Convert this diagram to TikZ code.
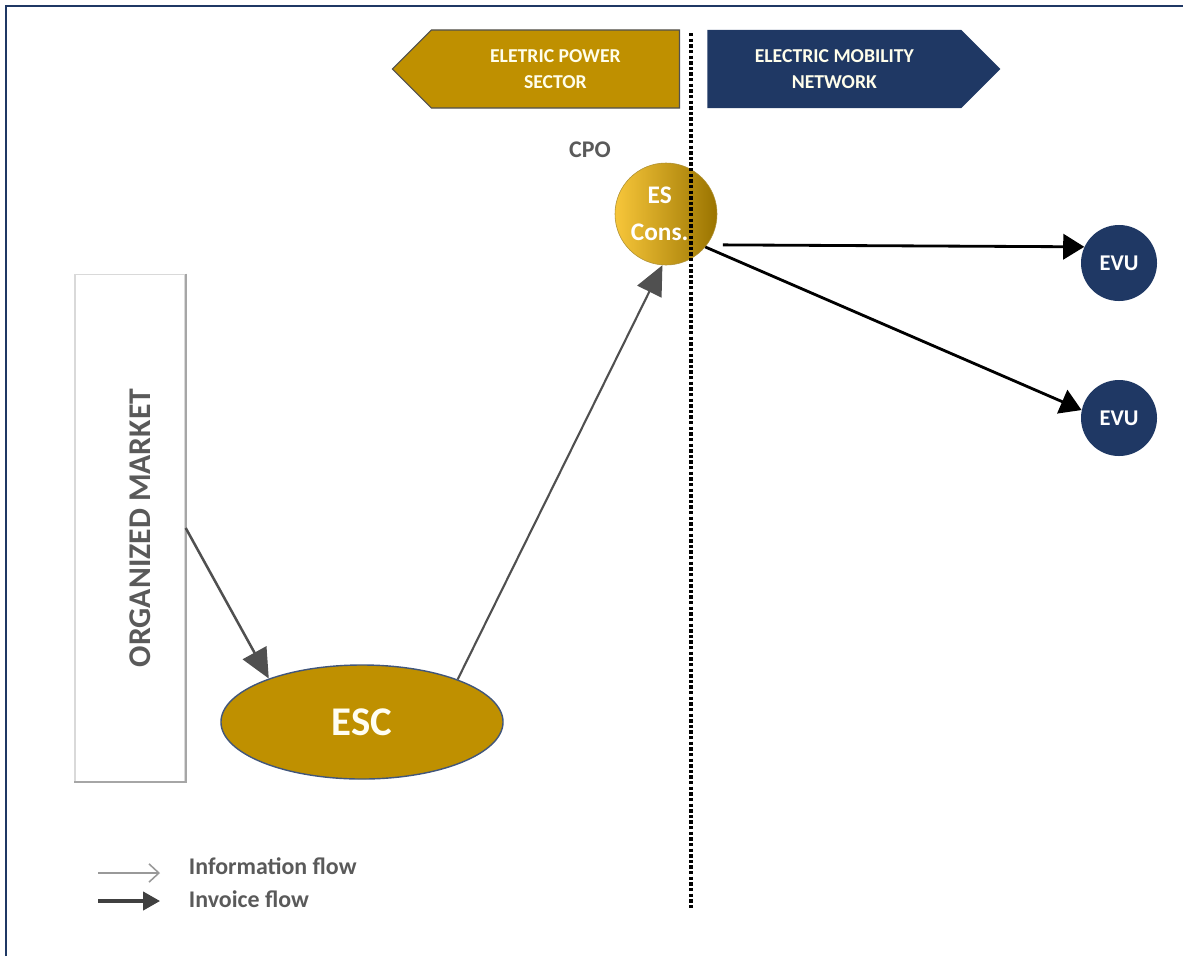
\documentclass[tikz,border=0pt]{standalone}
\usepackage{fontspec}
\setmainfont{Carlito}
\usetikzlibrary{arrows.meta,shapes.geometric,shapes.symbols}
\definecolor{gold}{HTML}{BF9000}
\definecolor{navy}{HTML}{1F3864}
\definecolor{esyellow}{HTML}{F2B705}
\definecolor{eslight}{HTML}{F7C63A}
\definecolor{esdark}{HTML}{9A7400}
\definecolor{darkgrey}{HTML}{505050}
\definecolor{textgrey}{HTML}{5A5A5A}
\begin{document}
\begin{tikzpicture}[x=0.025cm,y=-0.025cm,
    banner/.style={signal,signal pointer angle=90,minimum height=1.95cm,inner sep=0pt,
        text=white!92!yellow,align=center,font=\bfseries\fontsize{14}{18}\selectfont},
    evu/.style={circle,fill=navy,minimum size=1.9cm,inner sep=0pt,text=white,
        font=\bfseries\fontsize{16}{18}\selectfont},
    invoice/.style={-{Triangle[length=21pt,width=19pt]},draw=darkgrey,line width=1.8pt},
    mobility/.style={-{Triangle[length=15pt,width=18pt]},draw=black,line width=2pt},
    greytext/.style={text=textgrey,font=\bfseries\fontsize{17}{20}\selectfont}]
    \useasboundingbox (0,0) rectangle (1183,956);
    \draw [navy,line width=1.3pt] (6,956) -- (6,6) -- (1183,6);

    \draw (680,69) node (power) [banner,signal to=west,anchor=east,minimum width=7.175cm,
        fill=gold,draw=darkgrey,line width=0.8pt] {ELETRIC POWER\\SECTOR};
    \draw (707,69) node (mobil) [banner,signal to=east,anchor=west,minimum width=7.325cm,
        fill=navy] {ELECTRIC MOBILITY\\NETWORK};

    \coordinate (divtop) at (691,33);
    \coordinate (divbot) at (691,908);

    \draw (130,528) node (market) [rectangle,draw=black!15,line width=1pt,
        minimum width=2.75cm,minimum height=12.675cm] {};
    \draw [black!35,line width=1.6pt] (market.north east) -- (market.south east) -- (market.south west);
    \draw (140,528) node (markettext) [greytext,rotate=90,font=\bfseries\fontsize{22.5}{24}\selectfont] {ORGANIZED MARKET};

    \draw (362,722) node (esc) [ellipse,fill=gold,draw=navy!85,line width=1pt,
        minimum width=7.05cm,minimum height=2.85cm,text=white!95!yellow,
        font=\bfseries\fontsize{29}{30}\selectfont] {ESC};
    \draw (666,214) node (escons) [circle,minimum size=2.55cm,inner sep=0pt,
        left color=eslight,middle color=esyellow,right color=esdark,draw=esdark!80,
        text=white,align=center,font=\bfseries\fontsize{18}{26}\selectfont] {ES\hspace*{9pt}\\Cons.\hspace*{9pt}};
    \draw (590,150) node (cpo) [greytext] {CPO};

    \draw (1119,263) node (evutop) [evu] {EVU};
    \draw (1119,418) node (evubot) [evu] {EVU};

    \draw [line width=2.6pt,dash pattern=on 2.4pt off 1.6pt] (divtop) -- (divbot);

    \draw [invoice] (market.east) to (esc.155);
    \draw [invoice,line width=1.5pt] (esc.24) to (escons.266);
    \draw [mobility] (escons.-37) ++(16,0) -- (evutop.155);
    \draw [mobility] (escons.-40) to (evubot.168);

    % legend
    \coordinate (infoa) at (98,873);
    \coordinate (infob) at (160,873);
    \coordinate (invoa) at (98,901);
    \coordinate (invob) at (160,901);
    \draw [-{Straight Barb[length=7pt,width=13pt]},black!40,line width=1.1pt] (infoa) -- (infob);
    \draw [-{Triangle[length=12pt,width=13pt]},black!75,line width=2.2pt] (invoa) -- (invob);
    \draw (184,866) node (infotext) [greytext,anchor=west] {Information flow};
    \draw (184,899) node (invotext) [greytext,anchor=west] {Invoice flow};
\end{tikzpicture}
\end{document}
